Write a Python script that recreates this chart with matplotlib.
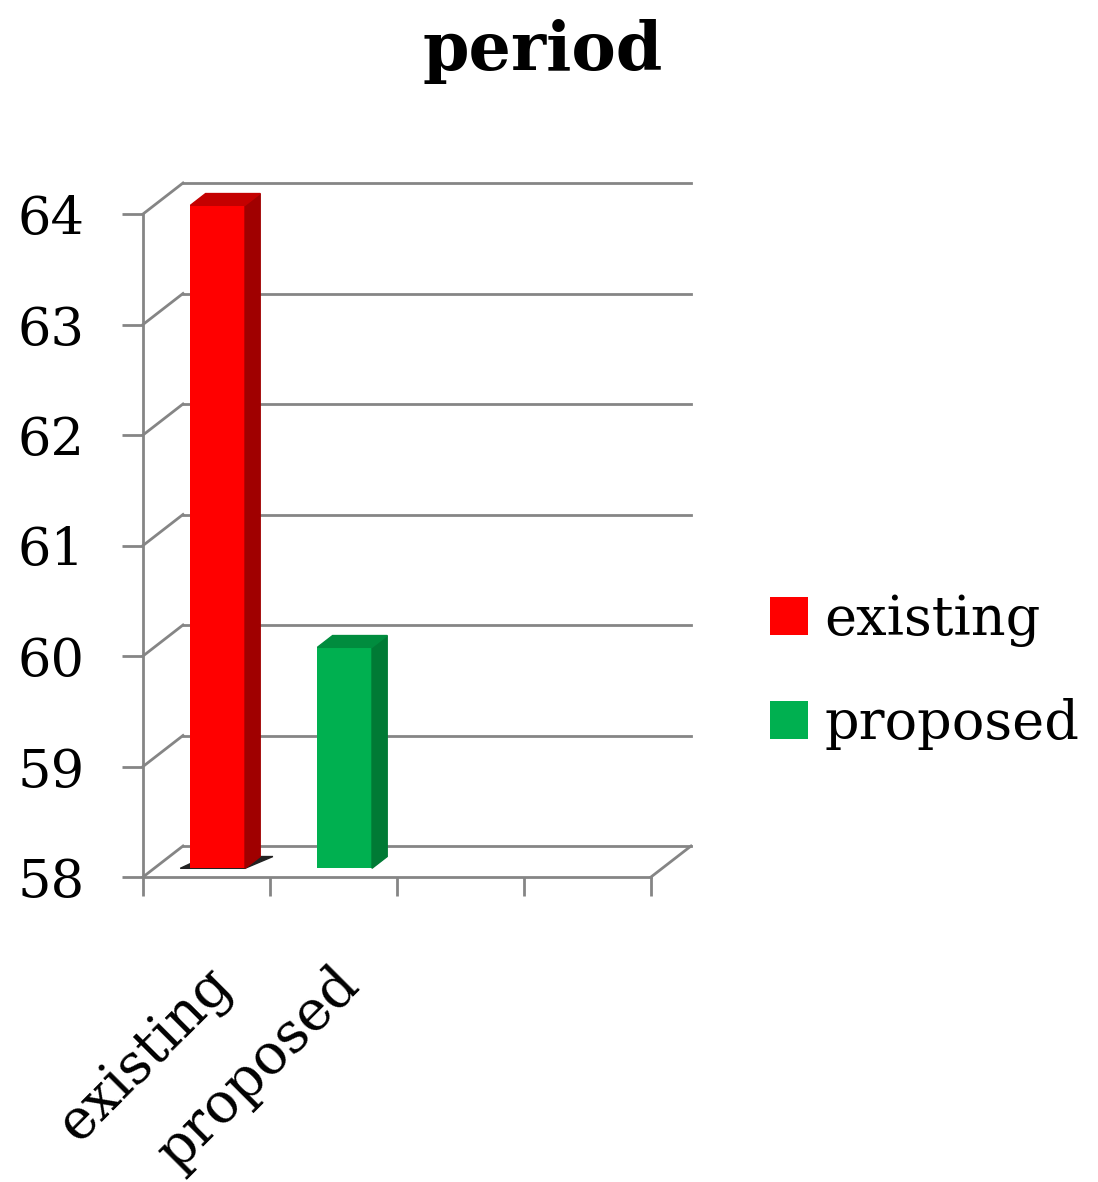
import matplotlib
matplotlib.use("Agg")
import matplotlib.pyplot as plt
from matplotlib.patches import Patch
from matplotlib.transforms import offset_copy

plt.rcParams['font.family'] = ['DejaVu Serif']

# data
categories = ["existing", "proposed"]
values = [64, 60]
bar_colors = ["#FF0000", "#00B050"]
side_colors = ["#A00000", "#007A35"]
top_colors = ["#C40000", "#008C3E"]
n_slots = 4
y_ticks = [58, 59, 60, 61, 62, 63, 64]
ymin, ymax = 58, 64

W, H = 1098, 1182
fig = plt.figure(figsize=(W / 100, H / 100), dpi=100)
# front plane of the fake 3d box
ax = fig.add_axes([143 / W, 1 - 877 / H, 508 / W, 663 / H])
ax.set_xlim(0, n_slots)
ax.set_ylim(ymin, ymax)

px_x = 508 / n_slots          # pixels per slot
px_y = 663 / (ymax - ymin)    # pixels per unit
DX = 40 / px_x                # depth shift of back wall
DY = 31 / px_y
grey = "#858585"
lw = 2.0

# back wall gridlines + left wall diagonals
for v in y_ticks:
    ax.plot([0, DX], [v, v + DY], color=grey, lw=lw, clip_on=False, zorder=1)
    ax.plot([DX, n_slots + DX], [v + DY, v + DY], color=grey, lw=lw,
            clip_on=False, zorder=1)
# right edge of the floor
ax.plot([n_slots, n_slots + DX], [ymin, ymin + DY], color=grey, lw=lw,
        clip_on=False, zorder=1)

# bars
f1, depth = 0.28, 0.38
bw = 0.43
for i, (v, c, cs, ct) in enumerate(zip(values, bar_colors, side_colors, top_colors)):
    xc = i + 0.5 + f1 * DX
    b = ymin + f1 * DY
    t = b + (v - ymin)
    x0, x1 = xc - bw / 2, xc + bw / 2
    dx, dy = depth * DX, depth * DY
    if i == 0:
        ax.fill([x0 - 0.08, x1, x1 + dx + 0.1, x0 + dx], [b, b, b + dy, b + dy],
                color="#222222", zorder=2, clip_on=False)
    ax.bar(xc, v - ymin, bottom=b, width=bw, color=c, zorder=3, clip_on=False)
    ax.fill([x1, x1 + dx, x1 + dx, x1], [b, b + dy, t + dy, t],
            color=cs, zorder=3, clip_on=False)
    ax.fill([x0, x1, x1 + dx, x0 + dx], [t, t, t + dy, t + dy],
            color=ct, zorder=3, clip_on=False)

# axes styling
for s in ["top", "right"]:
    ax.spines[s].set_visible(False)
for s in ["left", "bottom"]:
    ax.spines[s].set_color(grey)
    ax.spines[s].set_linewidth(lw)
    ax.spines[s].set_zorder(4)
ax.set_yticks(y_ticks)
ax.set_yticklabels([str(t) for t in y_ticks])
ax.set_xticks(range(n_slots + 1))
ax.set_xticklabels([])
ax.tick_params(axis="y", direction="out", length=15, width=lw, color=grey,
               pad=27, labelsize=38)
ax.tick_params(axis="x", direction="out", length=14, width=lw, color=grey)

# rotated category labels
for i, name in enumerate(categories):
    tr = offset_copy(ax.transData, fig=fig, x=-2, y=-80, units="dots")
    ax.text(i + 0.5, ymin, name, transform=tr, rotation=45, ha="right", va="top",
            rotation_mode="anchor", fontsize=40)

# legend
handles = [Patch(facecolor=c, edgecolor="none") for c in bar_colors]
fig.legend(handles, categories, loc="center left",
           bbox_to_anchor=(770 / W, 1 - 672 / H), frameon=False, fontsize=39,
           borderpad=0, borderaxespad=0, handlelength=0.7, handleheight=0.7,
           handletextpad=0.31, labelspacing=0.93)

fig.text(543 / W, 1 - 52 / H, "period", ha="center", va="center",
         fontsize=48, fontweight="bold")

fig.savefig("out.png", dpi=100)
